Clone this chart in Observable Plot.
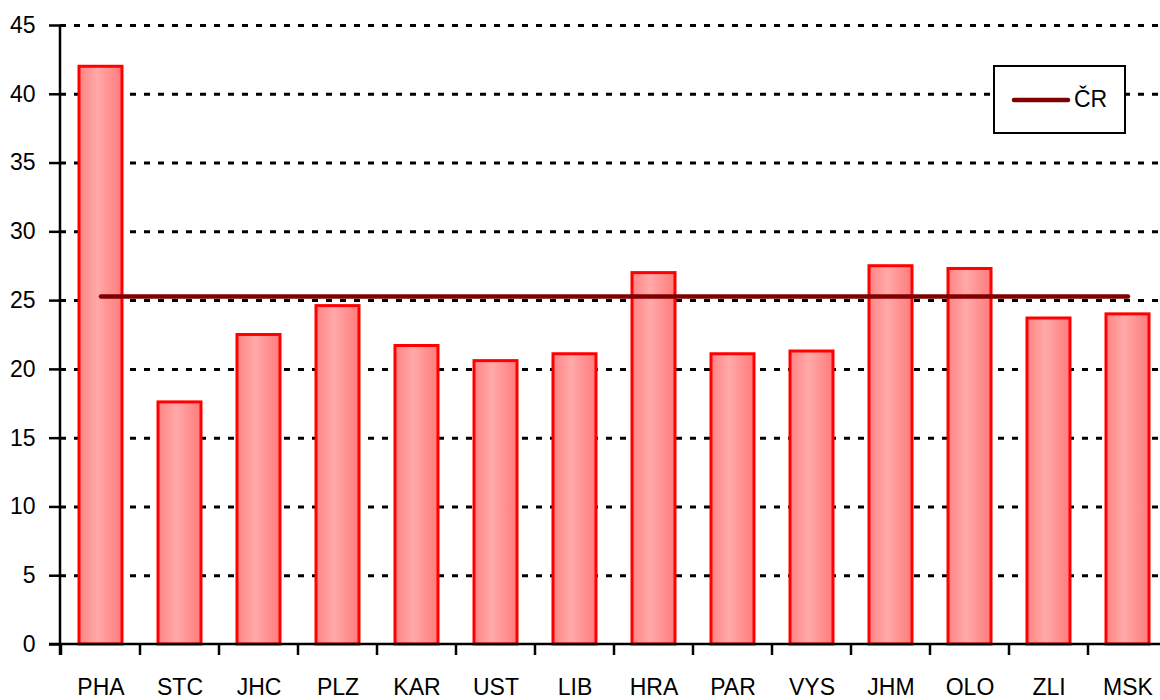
<!DOCTYPE html>
<html>
<head>
<meta charset="utf-8">
<script src="https://cdn.jsdelivr.net/npm/d3@7"></script>
<script src="https://cdn.jsdelivr.net/npm/@observablehq/plot@0.6"></script>
<style>
  html, body { margin: 0; padding: 0; background: #fff; overflow: hidden; }
  #wrap { position: relative; width: 1160px; height: 700px; font-family: "Liberation Sans", Arial, sans-serif; }
  #legend { position: absolute; left: 993px; top: 65px; width: 133px; height: 69px; box-sizing: border-box;
            border: 2px solid #000; background: #fff; display: flex; align-items: center; }
  #legend svg { display: block; margin-left: 16px; }
  #legend span { font-size: 23px; color: #000; margin-left: 3px; }
</style>
</head>
<body>
<div id="wrap"></div>
<script>
const regions = ["PHA","STC","JHC","PLZ","KAR","UST","LIB","HRA","PAR","VYS","JHM","OLO","ZLI","MSK"];
const values  = [42.0, 17.6, 22.5, 24.6, 21.7, 20.6, 21.1, 27.0, 21.1, 21.3, 27.5, 27.3, 23.7, 24.0];
const crValue = 25.3;
const crLabel = "ČR";
const yTicks = [0, 5, 10, 15, 20, 25, 30, 35, 40, 45];

const bars = regions.map((r, i) => ({region: r, value: values[i]}));
const crLine = regions.map(r => ({region: r, value: crValue}));

// axis lines + boundary ticks drawn from the scales
function axisFrame(index, scales, values, dimensions) {
  const x = scales.x, y = scales.y;
  const dom = x.domain();
  const step = x(dom[1]) - x(dom[0]);
  const bw = x.bandwidth ? x.bandwidth() : step * 0.55;
  const gap = (step - bw) / 2;
  const bounds = dom.map(d => x(d) - gap).concat([x(dom[dom.length - 1]) + bw + gap]);
  const y0 = y(0);
  const g = d3.create("svg:g").attr("stroke", "#000").attr("stroke-width", 2.5);
  g.selectAll("line.t").data(bounds).join("line")
    .attr("x1", d => d).attr("x2", d => d).attr("y1", y0).attr("y2", y0 + 11);
  const xl = dimensions.marginLeft;
  g.append("line").attr("x1", xl).attr("x2", xl).attr("y1", y(45)).attr("y2", y0 + 11);
  g.append("line").attr("x1", xl - 11).attr("x2", dimensions.width - dimensions.marginRight).attr("y1", y0).attr("y2", y0);
  return g.node();
}

const plot = Plot.plot({
  width: 1160,
  height: 700,
  marginLeft: 60,
  marginRight: -8,
  marginTop: 25,
  marginBottom: 56,
  style: {fontFamily: "Liberation Sans, Arial, sans-serif", fontSize: "23px", color: "#000", background: "#fff"},
  x: {domain: regions, paddingInner: 0.45, paddingOuter: 0.225, label: null},
  y: {domain: [0, 45], label: null},
  marks: [
    Plot.ruleY(yTicks.filter(t => t > 0), {stroke: "#000", strokeWidth: 3, strokeDasharray: "6,8", strokeOpacity: 1}),
    Plot.barY(bars, {x: "region", y: "value", fill: "url(#barGrad)", stroke: "#ff0000", strokeWidth: 3}),
    Plot.line(crLine, {x: "region", y: "value", stroke: "#7f0000", strokeWidth: 4.5, strokeLinecap: "round"}),
    Plot.axisY({ticks: yTicks, tickSize: 11, tickPadding: 14, tickFormat: d => String(d), fontSize: 23, stroke: "#000", strokeWidth: 2.5, strokeOpacity: 1}),
    Plot.axisX({tickSize: 0, tickPadding: 34, fontSize: 23}),
    axisFrame
  ]
});

const defs = `<defs><linearGradient id="barGrad" x1="0" x2="1" y1="0" y2="0">
  <stop offset="0" stop-color="#ff8383"/>
  <stop offset="0.42" stop-color="#ffa9a9"/>
  <stop offset="1" stop-color="#ff7b7b"/>
</linearGradient></defs>`;
plot.insertAdjacentHTML("afterbegin", defs);
plot.style.overflow = "hidden";

const wrap = document.getElementById("wrap");
wrap.appendChild(plot);

const legend = document.createElement("div");
legend.id = "legend";
legend.innerHTML = `<svg width="60" height="10"><line x1="3" x2="57" y1="5" y2="5" stroke="#7f0000" stroke-width="4.5" stroke-linecap="round"/></svg><span>${crLabel}</span>`;
wrap.appendChild(legend);
</script>
</body>
</html>
